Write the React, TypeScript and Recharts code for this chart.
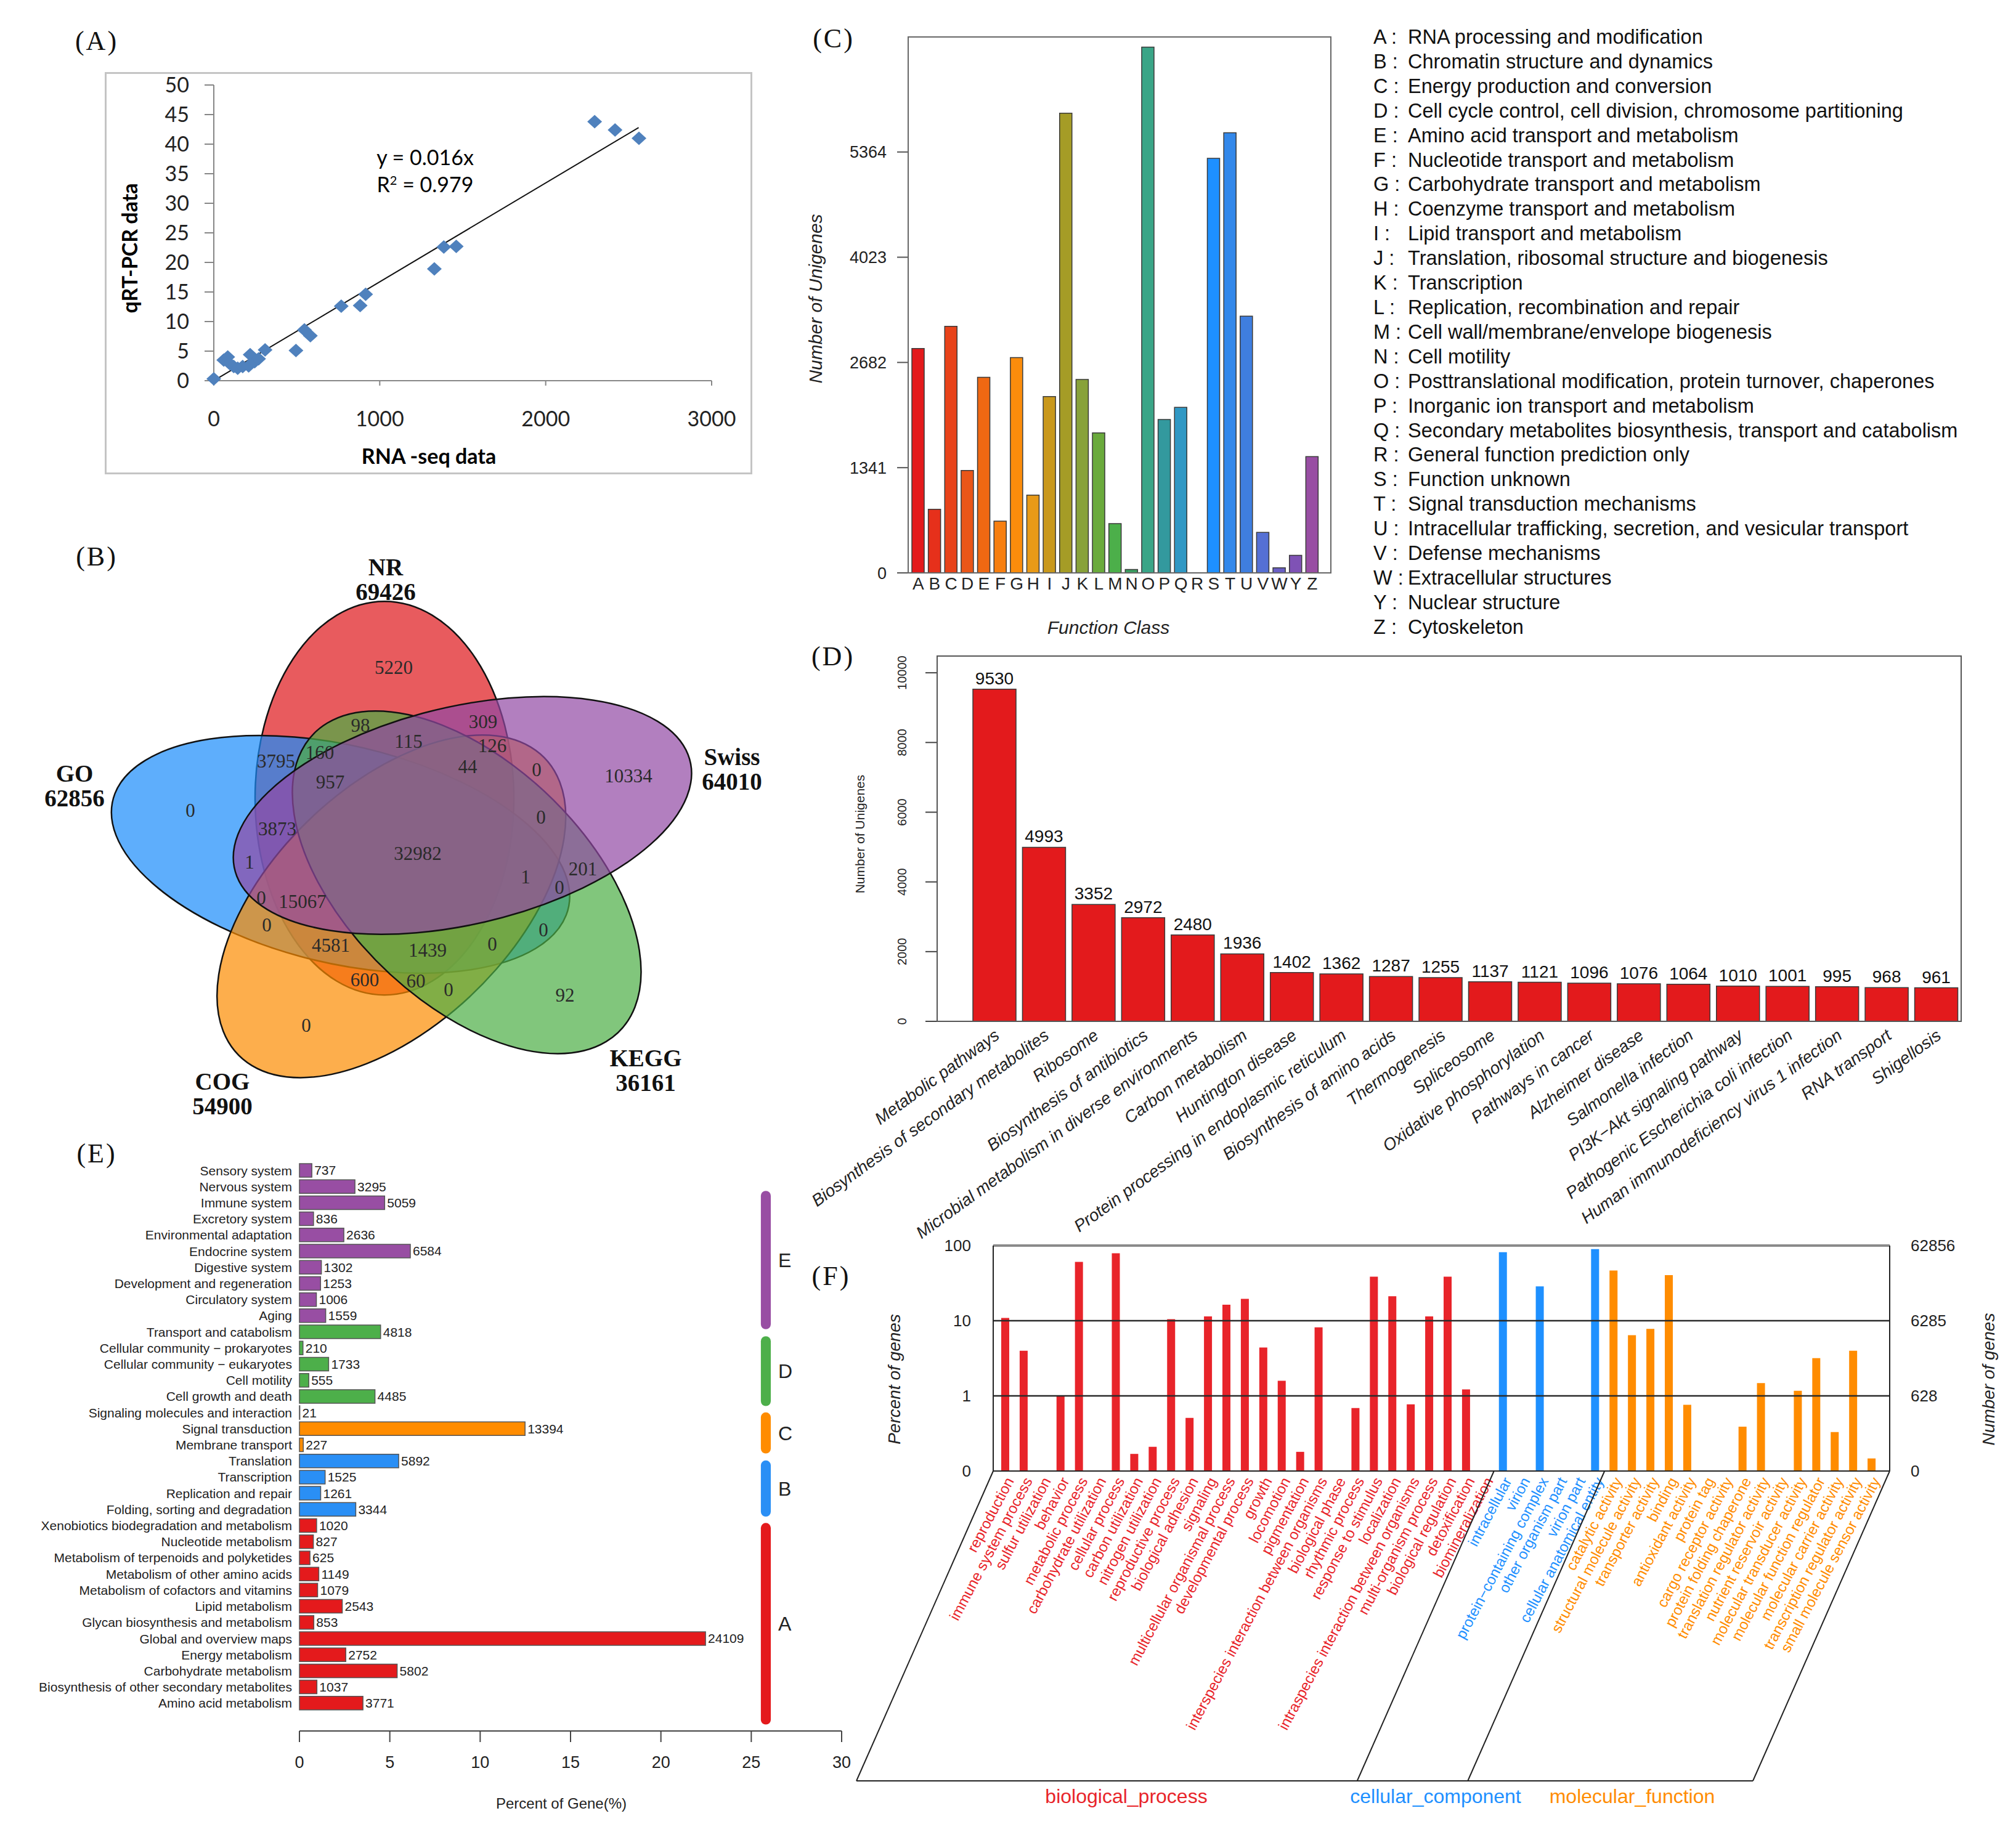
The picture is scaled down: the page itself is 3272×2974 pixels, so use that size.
import React from 'react';
import {
  ScatterChart, Scatter, XAxis, YAxis, BarChart, Bar, Cell, LabelList, ReferenceLine, ReferenceArea,
} from 'recharts';

const SANS = "'Liberation Sans', Arial, sans-serif";
const SERIF = "'Liberation Serif', 'Times New Roman', serif";
const CALIBRI = "Lato, 'Open Sans', sans-serif";

// ---------- (A) qRT-PCR vs RNA-seq ----------
const rnaSeqValues = [0, 60, 84, 96, 120, 144, 174, 210, 219, 246, 270, 309, 495, 546, 582, 768, 882, 915, 1329, 1386, 1461, 2295, 2418, 2562];
const qpcrValues = [0.3, 3.5, 4.0, 2.9, 2.4, 2.1, 2.4, 2.5, 4.4, 3.2, 3.7, 5.2, 5.1, 8.6, 7.6, 12.6, 12.7, 14.6, 18.9, 22.6, 22.7, 43.8, 42.4, 41.0];
const trendX = [30, 2560];
const trendY = [0.5, 42.8];
const aTicksX = [0, 1000, 2000, 3000];
const aTicksY = [0, 5, 10, 15, 20, 25, 30, 35, 40, 45, 50];

// ---------- (B) Venn ----------
const vennSetNames = ['NR', 'GO', 'COG', 'KEGG', 'Swiss'];
const vennSetTotals = [69426, 62856, 54900, 36161, 64010];
const vennSetColors = ['#de161a', '#1a8bfb', '#fc8b00', '#4cae44', '#9148a4'];
const vennRegionCounts = [5220, 98, 309, 115, 126, 3795, 160, 44, 0, 957, 10334, 0, 0, 3873, 32982, 1, 201, 1, 0, 0, 15067, 0, 0, 4581, 1439, 0, 600, 60, 0, 92, 0];

// ---------- (C) COG ----------
const cogClasses = ['A', 'B', 'C', 'D', 'E', 'F', 'G', 'H', 'I', 'J', 'K', 'L', 'M', 'N', 'O', 'P', 'Q', 'R', 'S', 'T', 'U', 'V', 'W', 'Y', 'Z'];
const cogCounts = [2860, 810, 3143, 1305, 2493, 660, 2743, 991, 2248, 5859, 2466, 1784, 628, 43, 6701, 1955, 2109, 0, 5284, 5609, 3271, 517, 64, 224, 1481];
const cogDescriptions = [
  'RNA processing and modification',
  'Chromatin structure and dynamics',
  'Energy production and conversion',
  'Cell cycle control, cell division, chromosome partitioning',
  'Amino acid transport and metabolism',
  'Nucleotide transport and metabolism',
  'Carbohydrate transport and metabolism',
  'Coenzyme transport and metabolism',
  'Lipid transport and metabolism',
  'Translation, ribosomal structure and biogenesis',
  'Transcription',
  'Replication, recombination and repair',
  'Cell wall/membrane/envelope biogenesis',
  'Cell motility',
  'Posttranslational modification, protein turnover, chaperones',
  'Inorganic ion transport and metabolism',
  'Secondary metabolites biosynthesis, transport and catabolism',
  'General function prediction only',
  'Function unknown',
  'Signal transduction mechanisms',
  'Intracellular trafficking, secretion, and vesicular transport',
  'Defense mechanisms',
  'Extracellular structures',
  'Nuclear structure',
  'Cytoskeleton',
];
const cogTicks = [0, 1341, 2682, 4023, 5364];
const cogColors = ['#e31a1c', '#e6301b', '#e8431a', '#ea5618', '#f06812', '#f77f10', '#fb8c0c', '#e89a18', '#c9981c', '#a59c26', '#88a23a', '#6aaa3c', '#4caf4a', '#3c9f62', '#3aa587', '#33999e', '#3098c4', '#2a8ee6', '#1e90ff', '#3388ea', '#3f7edf', '#5570d4', '#6a5fc4', '#7f52b5', '#984ea3'];

// ---------- (D) KEGG top 20 ----------
const keggPathways = [
  'Metabolic pathways', 'Biosynthesis of secondary metabolites', 'Ribosome', 'Biosynthesis of antibiotics',
  'Microbial metabolism in diverse environments', 'Carbon metabolism', 'Huntington disease',
  'Protein processing in endoplasmic reticulum', 'Biosynthesis of amino acids', 'Thermogenesis', 'Spliceosome',
  'Oxidative phosphorylation', 'Pathways in cancer', 'Alzheimer disease', 'Salmonella infection',
  'PI3K\u2212Akt signaling pathway', 'Pathogenic Escherichia coli infection',
  'Human immunodeficiency virus 1 infection', 'RNA transport', 'Shigellosis',
];
const keggPathwayCounts = [9530, 4993, 3352, 2972, 2480, 1936, 1402, 1362, 1287, 1255, 1137, 1121, 1096, 1076, 1064, 1010, 1001, 995, 968, 961];
const dTicks = [0, 2000, 4000, 6000, 8000, 10000];

// ---------- (E) KEGG classification ----------
const keggClassNames = [
  'Sensory system', 'Nervous system', 'Immune system', 'Excretory system', 'Environmental adaptation',
  'Endocrine system', 'Digestive system', 'Development and regeneration', 'Circulatory system', 'Aging',
  'Transport and catabolism', 'Cellular community \u2212 prokaryotes', 'Cellular community \u2212 eukaryotes',
  'Cell motility', 'Cell growth and death',
  'Signaling molecules and interaction', 'Signal transduction', 'Membrane transport',
  'Translation', 'Transcription', 'Replication and repair', 'Folding, sorting and degradation',
  'Xenobiotics biodegradation and metabolism', 'Nucleotide metabolism', 'Metabolism of terpenoids and polyketides',
  'Metabolism of other amino acids', 'Metabolism of cofactors and vitamins', 'Lipid metabolism',
  'Glycan biosynthesis and metabolism', 'Global and overview maps', 'Energy metabolism',
  'Carbohydrate metabolism', 'Biosynthesis of other secondary metabolites', 'Amino acid metabolism',
];
const keggClassCounts = [737, 3295, 5059, 836, 2636, 6584, 1302, 1253, 1006, 1559, 4818, 210, 1733, 555, 4485, 21, 13394, 227, 5892, 1525, 1261, 3344, 1020, 827, 625, 1149, 1079, 2543, 853, 24109, 2752, 5802, 1037, 3771];
const keggClassGroups = ['E', 'E', 'E', 'E', 'E', 'E', 'E', 'E', 'E', 'E', 'D', 'D', 'D', 'D', 'D', 'C', 'C', 'C', 'B', 'B', 'B', 'B', 'A', 'A', 'A', 'A', 'A', 'A', 'A', 'A', 'A', 'A', 'A', 'A'];
const keggGroupColors: Record<string, string> = { E: '#984ea3', D: '#4daf4a', C: '#ff8c00', B: '#2a8ff5', A: '#e41a1c' };
const eTicks = [0, 5, 10, 15, 20, 25, 30];

// ---------- (F) GO ----------
const goBpTerms = ['reproduction', 'immune system process', 'sulfur utilization', 'behavior', 'metabolic process', 'carbohydrate utilization', 'cellular process', 'carbon utilization', 'nitrogen utilization', 'reproductive process', 'biological adhesion', 'signaling', 'multicellular organismal process', 'developmental process', 'growth', 'locomotion', 'pigmentation', 'interspecies interaction between organisms', 'biological phase', 'rhythmic process', 'response to stimulus', 'localization', 'intraspecies interaction between organisms', 'multi-organism process', 'biological regulation', 'detoxification', 'biomineralization'];
const goBpPercent = [10.9, 3.99, null, 1.0, 60.6, null, 78.8, 0.169, 0.21, 10.5, 0.51, 11.4, 16.3, 19.5, 4.39, 1.59, 0.18, 8.17, null, 0.69, 38.5, 21.2, 0.77, 11.4, 38.5, 1.22, null];
const goCcTerms = ['intracellular', 'virion', 'protein\u2212containing complex', 'other organism part', 'virion part', 'cellular anatomical entity'];
const goCcPercent = [81.6, null, 28.6, null, null, 89.8];
const goMfTerms = ['catalytic activity', 'structural molecule activity', 'transporter activity', 'binding', 'antioxidant activity', 'protein tag', 'cargo receptor activity', 'protein folding chaperone', 'translation regulator activity', 'nutrient reservoir activity', 'molecular transducer activity', 'molecular function regulator', 'molecular carrier activity', 'transcription regulator activity', 'small molecule sensor activity'];
const goMfPercent = [46.6, 6.43, 7.78, 40.4, 0.76, null, null, 0.39, 1.48, null, 1.17, 3.18, 0.33, 3.99, 0.147];
const goGroupNames = ['biological_process', 'cellular_component', 'molecular_function'];
const goGroupColors = ['#e8242a', '#1e90ff', '#ff8c00'];
const fTicks = [0.1, 1, 10, 100];
const fLeftTickLabels = ['0', '1', '10', '100'];
const fRightTickLabels = ['0', '628', '6285', '62856'];

// ---------- layout helpers ----------
const Txt: React.FC<{ x: number; y: number; rot?: number; style?: React.CSSProperties; children: React.ReactNode }> = ({ x, y, rot = 0, style, children }) => (
  <div
    style={{
      position: 'absolute', left: x, top: y, whiteSpace: 'nowrap', lineHeight: 1,
      transform: `translate(-50%, -50%) rotate(${rot}deg)`, ...style,
    }}
  >
    {children}
  </div>
);

const Frame: React.FC<{ l: number; t: number; r: number; b: number; color?: string; w?: number }> = ({ l, t, r, b, color = '#555', w = 2 }) => (
  <div
    style={{
      position: 'absolute', left: l - w / 2, top: t - w / 2, width: r - l + w, height: b - t + w,
      border: `${w}px solid ${color}`, boxSizing: 'border-box', pointerEvents: 'none',
    }}
  />
);

const panelLetter = { fontFamily: SERIF, fontSize: 44, color: '#111', letterSpacing: 3 };

// ---------- (A) ----------
const Diamond = (p: any) => {
  const { cx, cy } = p;
  return <polygon points={`${cx},${cy - 11} ${cx + 12},${cy} ${cx},${cy + 11} ${cx - 12},${cy}`} fill="#4f81bd" />;
};

function PanelA() {
  const points = rnaSeqValues.map((x, i) => ({ x, y: qpcrValues[i] }));
  const trend = trendX.map((x, i) => ({ x, y: trendY[i] }));
  const axisStyle = { stroke: '#868686', strokeWidth: 2 };
  return (
    <>
      <Frame l={171} t={118} r={1219} b={768} color="#c4c4c4" w={3} />
      <div style={{ position: 'absolute', left: 170, top: 117 }}>
        <ScatterChart width={1050} height={652} margin={{ top: 21, right: 65, bottom: 81, left: 57 }}>
          <XAxis type="number" dataKey="x" domain={[0, 3000]} ticks={aTicksX} height={70} tickSize={8} tickMargin={42}
            axisLine={axisStyle} tickLine={axisStyle} tick={{ fontSize: 34, fill: '#222', fontFamily: CALIBRI }} />
          <YAxis type="number" dataKey="y" domain={[0, 50]} ticks={aTicksY} width={120} tickSize={15} tickMargin={25}
            axisLine={axisStyle} tickLine={axisStyle} tick={{ fontSize: 34, fill: '#222', fontFamily: CALIBRI }} interval={0} />
          <Scatter data={trend} line={{ stroke: '#111', strokeWidth: 2 }} shape={() => <g />} isAnimationActive={false} />
          <Scatter data={points} shape={Diamond} isAnimationActive={false} />
        </ScatterChart>
      </div>
      <Txt x={157} y={67} style={panelLetter}>(A)</Txt>
      <Txt x={210} y={403} rot={-90} style={{ fontFamily: CALIBRI, fontWeight: 700, fontSize: 34 }}>qRT-PCR data</Txt>
      <Txt x={696} y={740} style={{ fontFamily: CALIBRI, fontWeight: 700, fontSize: 34 }}>RNA -seq data</Txt>
      <Txt x={690} y={255} style={{ fontFamily: CALIBRI, fontSize: 34 }}>y = 0.016x</Txt>
      <Txt x={690} y={299} style={{ fontFamily: CALIBRI, fontSize: 34 }}>R<sup style={{ fontSize: 20 }}>2</sup> = 0.979</Txt>
    </>
  );
}

// ---------- (B) ----------
const VENN_LEFT = 0;
const VENN_TOP = 880;
const VENN_W = 1300;
const VENN_H = 940;
const VENN_CENTER = { x: 664, y: 1382 };
const VENN_OFFSET = { x: -40, y: -104 };
const VENN_A = 385;
const VENN_B = 210;
const VENN_SQUASH = 0.83;
const VENN_ROT = [0, -72, -144, 144, 72];
const VENN_REGION_POS = [[639, 1083], [585, 1177], [784, 1171], [663, 1203], [799, 1210], [448, 1235], [519, 1221], [759, 1244], [871, 1249], [536, 1269], [1020, 1259], [309, 1315], [878, 1326], [450, 1345], [678, 1385], [405, 1399], [946, 1410], [853, 1423], [908, 1440], [424, 1457], [491, 1463], [433, 1501], [882, 1509], [537, 1534], [694, 1542], [799, 1532], [592, 1590], [675, 1592], [728, 1606], [917, 1615], [497, 1664]];
const VENN_LABEL_POS = [[626, 940], [121, 1275], [361, 1775], [1048, 1737], [1188, 1248]];
const VENN_LINE_GAP = 40;

const VennEllipse = (p: any) => (
  <g transform={`translate(${p.cx},${p.cy}) scale(1,${VENN_SQUASH}) rotate(${p.payload.rot})`}>
    <ellipse rx={VENN_B} ry={VENN_A} fill={p.payload.color} fillOpacity={0.7} stroke="#111" strokeWidth={2.5} vectorEffect="non-scaling-stroke" />
  </g>
);
const VennCount = (p: any) => (
  <text x={p.cx} y={p.cy} dy="0.35em" textAnchor="middle" fontFamily={SERIF} fontSize={31} fill="#2a2a2a">{p.payload.label}</text>
);
const VennSetLabel = (p: any) => (
  <g fontFamily={SERIF} fontWeight={700} fontSize={39} fill="#111" textAnchor="middle">
    <text x={p.cx} y={p.cy - VENN_LINE_GAP / 2} dy="0.35em">{p.payload.name}</text>
    <text x={p.cx} y={p.cy + VENN_LINE_GAP / 2} dy="0.35em">{p.payload.total}</text>
  </g>
);

function PanelB() {
  const ellipses = vennSetNames.map((name, i) => {
    const r = (VENN_ROT[i] * Math.PI) / 180;
    const ox = VENN_OFFSET.x * Math.cos(r) - VENN_OFFSET.y * Math.sin(r);
    const oy = VENN_OFFSET.x * Math.sin(r) + VENN_OFFSET.y * Math.cos(r);
    return {
      name, color: vennSetColors[i], rot: VENN_ROT[i],
      x: VENN_CENTER.x + ox - VENN_LEFT, y: VENN_CENTER.y + VENN_SQUASH * oy - VENN_TOP,
    };
  });
  const counts = vennRegionCounts.map((c, i) => ({ label: String(c), x: VENN_REGION_POS[i][0] - VENN_LEFT, y: VENN_REGION_POS[i][1] - VENN_TOP }));
  const labels = vennSetNames.map((name, i) => ({ name, total: vennSetTotals[i], x: VENN_LABEL_POS[i][0] - VENN_LEFT, y: VENN_LABEL_POS[i][1] - VENN_TOP }));
  return (
    <>
      <div style={{ position: 'absolute', left: VENN_LEFT, top: VENN_TOP }}>
        <ScatterChart width={VENN_W} height={VENN_H} margin={{ top: 0, right: 0, bottom: 0, left: 0 }}>
          <XAxis type="number" dataKey="x" domain={[0, VENN_W]} hide allowDataOverflow />
          <YAxis type="number" dataKey="y" domain={[0, VENN_H]} reversed hide allowDataOverflow />
          <Scatter data={ellipses} shape={VennEllipse} isAnimationActive={false} />
          <Scatter data={counts} shape={VennCount} isAnimationActive={false} />
          <Scatter data={labels} shape={VennSetLabel} isAnimationActive={false} />
        </ScatterChart>
      </div>
      <Txt x={157} y={904} style={panelLetter}>(B)</Txt>
    </>
  );
}

// ---------- (C) ----------
function PanelC() {
  const data = cogClasses.map((k, i) => ({ k, v: cogCounts[i] }));
  return (
    <>
      <div style={{ position: 'absolute', left: 1280, top: 0 }}>
        <BarChart width={920} height={1060} data={data} margin={{ top: 60, right: 40, bottom: 80, left: 104 }}>
          <XAxis dataKey="k" type="category" interval={0} height={50} padding={{ left: 3, right: 17 }}
            axisLine={false} tickLine={false} tickSize={0} tickMargin={7}
            tick={{ fontSize: 28, fill: '#222', fontFamily: SANS }} />
          <YAxis type="number" domain={[0, 6830]} ticks={cogTicks} interval={0} width={90} axisLine={false}
            tickSize={18} tickMargin={17} tickLine={{ stroke: '#555', strokeWidth: 2 }}
            tick={{ fontSize: 27, fill: '#222', fontFamily: SANS }} />
          <Bar dataKey="v" barSize={20} stroke="#3a3a3a" strokeWidth={1.5} isAnimationActive={false}>
            {data.map((d, i) => <Cell key={d.k} fill={cogColors[i]} />)}
          </Bar>
        </BarChart>
      </div>
      <Frame l={1474} t={60} r={2160} b={930} color="#666" />
      <Txt x={1353} y={63} style={panelLetter}>(C)</Txt>
      <Txt x={1324} y={485} rot={-90} style={{ fontFamily: SANS, fontStyle: 'italic', fontSize: 30, color: '#222' }}>Number of Unigenes</Txt>
      <Txt x={1799} y={1019} style={{ fontFamily: SANS, fontStyle: 'italic', fontSize: 30, color: '#222' }}>Function Class</Txt>
      <div style={{ position: 'absolute', left: 2229, top: 41, fontFamily: SANS, fontSize: 32.5, lineHeight: '39.9px', color: '#111' }}>
        {cogClasses.map((c, i) => (
          <div key={c} style={{ display: 'flex', whiteSpace: 'nowrap' }}>
            <span style={{ width: 56, flex: 'none' }}>{c} :</span>
            <span>{cogDescriptions[i]}</span>
          </div>
        ))}
      </div>
    </>
  );
}

// ---------- (D) ----------
const DYTick = (p: any) => (
  <text transform={`translate(${p.x},${p.y}) rotate(-90)`} dy="0.35em" textAnchor="middle" fontFamily={SANS} fontSize={20} fill="#222">
    {p.payload.value}
  </text>
);
const DXTick = (p: any) => (
  <text transform={`translate(${p.x + 4},${p.y}) rotate(-36)`} dy="0.35em" textAnchor="end" fontFamily={SANS} fontStyle="italic" fontSize={27.5} fill="#222">
    {p.payload.value}
  </text>
);

function PanelD() {
  const data = keggPathways.map((name, i) => ({ name, value: keggPathwayCounts[i] }));
  return (
    <>
      <div style={{ position: 'absolute', left: 1300, top: 1040 }}>
        <BarChart width={1972} height={1010} data={data} margin={{ top: 25, right: 89, bottom: 92, left: 121 }}>
          <XAxis dataKey="name" type="category" interval={0} height={300} padding={{ left: 53, right: 0 }}
            axisLine={false} tickLine={false} tickSize={0} tickMargin={19} tick={DXTick} />
          <YAxis type="number" domain={[0, 10480]} ticks={dTicks} interval={0} width={100} axisLine={false}
            tickSize={19} tickMargin={38} tickLine={{ stroke: '#444', strokeWidth: 2 }} tick={DYTick} />
          <Bar dataKey="value" barSize={70} fill="#e31a1c" stroke="#3a3a3a" strokeWidth={1.5} isAnimationActive={false}>
            <LabelList dataKey="value" position="top" offset={8} fontSize={28} fill="#111" fontFamily={SANS} />
          </Bar>
        </BarChart>
      </div>
      <Frame l={1521} t={1065} r={3183} b={1658} color="#555" />
      <Txt x={1352} y={1066} style={panelLetter}>(D)</Txt>
      <Txt x={1395} y={1354} rot={-90} style={{ fontFamily: SANS, fontSize: 21, color: '#222' }}>Number of Unigenes</Txt>
    </>
  );
}

// ---------- (E) ----------
const E_BRACKETS = [
  { g: 'E', y1: 1.71, y2: 10.03 },
  { g: 'D', y1: 10.45, y2: 14.65 },
  { g: 'C', y1: 15.03, y2: 17.5 },
  { g: 'B', y1: 17.92, y2: 21.3 },
  { g: 'A', y1: 21.68, y2: 33.8 },
];

function PanelE() {
  const total = keggClassCounts.reduce((a, b) => a + b, 0);
  const data = keggClassNames.map((name, i) => ({
    name, count: keggClassCounts[i], pct: (keggClassCounts[i] / total) * 100, group: keggClassGroups[i],
  }));
  return (
    <>
      <div style={{ position: 'absolute', left: 0, top: 1840 }}>
        <BarChart width={1400} height={1134} data={data} layout="vertical" margin={{ top: 47, right: 34, bottom: 84, left: 0 }}>
          <XAxis type="number" domain={[0, 30]} ticks={eTicks} interval={0} height={80} tickSize={18} tickMargin={23}
            axisLine={{ stroke: '#444', strokeWidth: 2 }} tickLine={{ stroke: '#444', strokeWidth: 2 }}
            tick={{ fontSize: 27, fill: '#222', fontFamily: SANS }} />
          <YAxis type="category" dataKey="name" width={486} interval={0} padding={{ top: 0, bottom: 32 }}
            axisLine={false} tickLine={false} tickSize={0} tickMargin={12}
            tick={{ fontSize: 21, fill: '#222', fontFamily: SANS }} />
          <YAxis yAxisId="idx" type="number" domain={[-0.5, 33.5]} hide allowDataOverflow padding={{ top: 0, bottom: 32 }} />
          <Bar dataKey="pct" barSize={22} stroke="#555" strokeWidth={1.5} isAnimationActive={false}>
            {data.map((d) => <Cell key={d.name} fill={keggGroupColors[d.group]} />)}
            <LabelList dataKey="count" position="right" offset={4} fontSize={21} fill="#222" fontFamily={SANS} />
          </Bar>
          {E_BRACKETS.map((b) => (
            <ReferenceArea key={b.g} yAxisId="idx" x1={25.53} x2={26.08} y1={b.y1} y2={b.y2} ifOverflow="visible"
              shape={(s: any) => <rect x={s.x} y={s.y} width={s.width} height={s.height} rx={8} fill={keggGroupColors[b.g]} />}
              label={{ value: b.g, position: 'right', offset: 12, fontSize: 32, fill: '#222', fontFamily: SANS }} />
          ))}
        </BarChart>
      </div>
      <Txt x={157} y={1873} style={panelLetter}>(E)</Txt>
      <Txt x={911} y={2928} style={{ fontFamily: SANS, fontSize: 24, color: '#222' }}>Percent of Gene(%)</Txt>
    </>
  );
}

// ---------- (F) ----------
const goGroupOf: Record<string, number> = {};
goBpTerms.forEach((t) => { goGroupOf[t] = 0; });
goCcTerms.forEach((t) => { goGroupOf[t] = 1; });
goMfTerms.forEach((t) => { goGroupOf[t] = 2; });

const FXTick = (p: any) => (
  <text transform={`translate(${p.x + 7},${p.y + 12}) rotate(-62)`} dy="0.35em" textAnchor="end" fontFamily={SANS} fontSize={24}
    fill={goGroupColors[goGroupOf[p.payload.value]]}>
    {p.payload.value}
  </text>
);

function PanelF() {
  const data = [
    ...goBpTerms.map((t, i) => ({ term: t, pct: goBpPercent[i], g: 0 })),
    ...goCcTerms.map((t, i) => ({ term: t, pct: goCcPercent[i], g: 1 })),
    ...goMfTerms.map((t, i) => ({ term: t, pct: goMfPercent[i], g: 2 })),
  ];
  const band = (1455 - 19) / data.length;
  const x0 = 1612 + 5;
  const topBP = x0 + band * goBpTerms.length;
  const topCC = x0 + band * (goBpTerms.length + goCcTerms.length);
  const dx = -222;
  const y0 = 2388;
  const y1 = 2891;
  return (
    <>
      <div style={{ position: 'absolute', left: 1300, top: 1990 }}>
        <BarChart width={1972} height={984} data={data} margin={{ top: 32, right: 85, bottom: 86, left: 172 }}>
          <XAxis dataKey="term" type="category" interval={0} height={500} padding={{ left: 5, right: 14 }}
            axisLine={{ stroke: '#222', strokeWidth: 2 }} tickLine={false} tickSize={0} tickMargin={0} tick={FXTick} />
          <YAxis type="number" scale="log" domain={[0.1, 100]} allowDataOverflow ticks={fTicks} interval={0} width={140}
            axisLine={{ stroke: '#222', strokeWidth: 2 }} tickLine={false} tickSize={0} tickMargin={36}
            tickFormatter={(v: number) => fLeftTickLabels[fTicks.indexOf(v)]}
            tick={{ fontSize: 26, fill: '#222', fontFamily: SANS }} />
          <YAxis yAxisId="r" orientation="right" type="number" scale="log" domain={[0.1, 100]} allowDataOverflow ticks={fTicks}
            interval={0} width={120} axisLine={{ stroke: '#222', strokeWidth: 2 }} tickLine={false} tickSize={0} tickMargin={34}
            tickFormatter={(v: number) => fRightTickLabels[fTicks.indexOf(v)]}
            tick={{ fontSize: 26, fill: '#222', fontFamily: SANS, textAnchor: 'start' }} />
          <ReferenceLine y={100} stroke="#8a8a8a" strokeWidth={4} ifOverflow="visible" />
          <ReferenceLine y={10} stroke="#2a2a2a" strokeWidth={2.5} />
          <ReferenceLine y={1} stroke="#2a2a2a" strokeWidth={2.5} />
          <Bar dataKey="pct" barSize={13} isAnimationActive={false}>
            {data.map((d) => <Cell key={d.term} fill={goGroupColors[d.g]} />)}
          </Bar>
        </BarChart>
      </div>
      <svg style={{ position: 'absolute', left: 0, top: 0, overflow: 'visible', pointerEvents: 'none' }} width={3272} height={2974}>
        <g stroke="#222" strokeWidth={2} fill="none">
          <line x1={1612} y1={y0} x2={1612 + dx} y2={y1} />
          <line x1={topBP} y1={y0} x2={topBP + dx} y2={y1} />
          <line x1={topCC} y1={y0} x2={topCC + dx} y2={y1} />
          <line x1={3067} y1={y0} x2={3067 + dx} y2={y1} />
          <line x1={1612 + dx} y1={y1} x2={3067 + dx} y2={y1} />
        </g>
        {goGroupNames.map((n, i) => (
          <text key={n} x={[1828, 2330, 2649][i]} y={2916} dy="0.35em" textAnchor="middle" fontFamily={SANS} fontSize={32} fill={goGroupColors[i]}>{n}</text>
        ))}
      </svg>
      <Txt x={1349} y={2072} style={panelLetter}>(F)</Txt>
      <Txt x={1452} y={2239} rot={-90} style={{ fontFamily: SANS, fontStyle: 'italic', fontSize: 28, color: '#222' }}>Percent of genes</Txt>
      <Txt x={3228} y={2239} rot={-90} style={{ fontFamily: SANS, fontStyle: 'italic', fontSize: 28, color: '#222' }}>Number of genes</Txt>
    </>
  );
}

export default function App() {
  return (
    <div style={{ position: 'absolute', left: 0, top: 0, width: 3272, height: 2974, background: '#fff', overflow: 'hidden' }}>
      <PanelA />
      <PanelB />
      <PanelC />
      <PanelD />
      <PanelE />
      <PanelF />
    </div>
  );
}
